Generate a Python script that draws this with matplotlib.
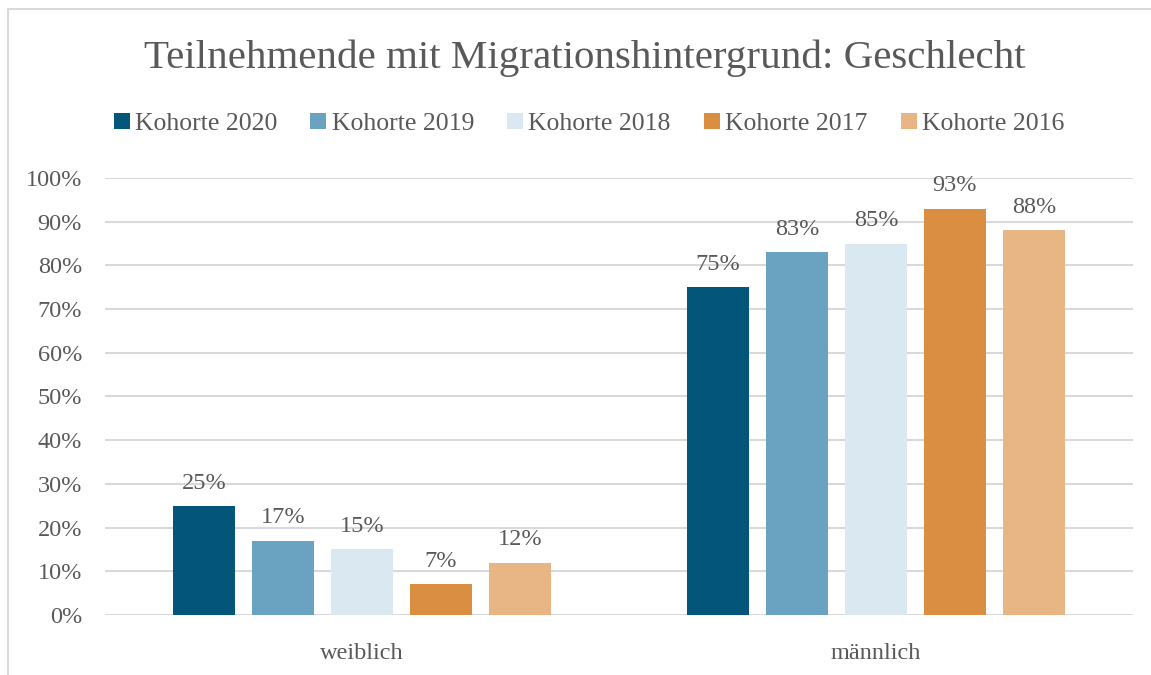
import numpy as np
import matplotlib.pyplot as plt
from matplotlib.patches import Rectangle

# data
categories = ['weiblich', 'männlich']
cohorts = ['Kohorte 2020', 'Kohorte 2019', 'Kohorte 2018', 'Kohorte 2017', 'Kohorte 2016']
values_2020 = [25, 75]
values_2019 = [17, 83]
values_2018 = [15, 85]
values_2017 = [7, 93]
values_2016 = [12, 88]
yticks = [0, 10, 20, 30, 40, 50, 60, 70, 80, 90, 100]

series = [values_2020, values_2019, values_2018, values_2017, values_2016]
colors = ['#03567A', '#69A3C1', '#DAE8F1', '#D98E42', '#E8B584']
text_col = '#595959'
grid_col = '#D9D9D9'

plt.rcParams['font.family'] = ['Liberation Serif', 'DejaVu Serif']

fig = plt.figure(figsize=(11.51, 6.75), dpi=100)
ax = fig.add_axes([0.0912, 0.0889, 0.8932, 0.6474])

# chart frame (only top/left visible in the crop)
fig.patches.append(Rectangle((8 / 1151, -0.1), 1.2, 1 - 9 / 675 + 0.1,
                             transform=fig.transFigure, fill=False,
                             edgecolor='#D9D9D9', linewidth=1.5))

x = np.arange(len(categories))
step = 0.1535
width = 0.121
for i, (vals, col, lab) in enumerate(zip(series, colors, cohorts)):
    pos = x + (i - 2) * step
    ax.bar(pos, vals, width, color=col, label=lab, zorder=3)
    for p, v in zip(pos, vals):
        ax.text(p, v + 2.8, f'{v}%', ha='center', va='bottom',
                fontsize=17.5, color=text_col)

ax.set_xlim(-0.5, 1.5)
ax.set_ylim(0, 100)
ax.set_yticks(yticks)
ax.set_yticklabels([f'{t}%' for t in yticks])
ax.set_xticks(x)
ax.set_xticklabels(categories)
ax.tick_params(axis='both', length=0, labelsize=17.5, labelcolor=text_col)
ax.tick_params(axis='y', pad=16.5)
ax.tick_params(axis='x', pad=20)
ax.yaxis.grid(True, color=grid_col, linewidth=1.5, zorder=0)
ax.set_axisbelow(True)
for s in ax.spines.values():
    s.set_visible(False)

fig.text(585 / 1151, 1 - 58 / 675, 'Teilnehmende mit Migrationshintergrund: Geschlecht',
         ha='center', va='center', fontsize=29.5, color=text_col)

fig.legend(loc='center', bbox_to_anchor=(589 / 1151, 1 - 124 / 675), ncol=5,
           frameon=False, fontsize=18.5, labelcolor=text_col,
           handlelength=0.62, handleheight=0.62, handletextpad=0.2,
           columnspacing=1.3)

fig.savefig('out.png', dpi=100)
